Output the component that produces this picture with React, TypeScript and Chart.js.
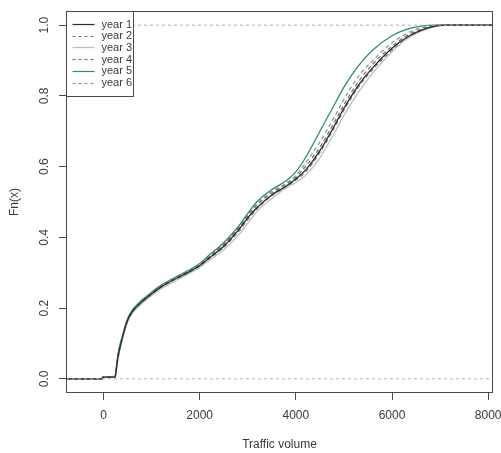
import React, { useEffect, useRef } from 'react';
import { Chart, registerables } from 'chart.js';

Chart.register(...registerables);

// Traffic volume grid (x) shared by all empirical CDF curves
const trafficVolume = [-780, -30, -10, 240, 260, 300, 400, 500, 600, 700, 800, 1000, 1200, 1500, 1800, 2000, 2200, 2500, 2800, 3000, 3200, 3500, 3800, 4000, 4200, 4500, 4800, 5000, 5300, 5600, 6000, 6300, 6600, 6900, 7100, 8100];

const year1 = [0, 0, 0.005, 0.005, 0.02, 0.06, 0.12, 0.165, 0.19, 0.205, 0.218, 0.24, 0.26, 0.283, 0.304, 0.32, 0.342, 0.375, 0.42, 0.455, 0.485, 0.52, 0.545, 0.565, 0.59, 0.645, 0.715, 0.765, 0.83, 0.88, 0.935, 0.965, 0.985, 0.997, 1, 1];
const year2 = [0, 0, 0.005, 0.005, 0.02, 0.06, 0.12, 0.165, 0.19, 0.205, 0.219, 0.241, 0.261, 0.285, 0.306, 0.322, 0.345, 0.38, 0.425, 0.46, 0.492, 0.525, 0.55, 0.57, 0.6, 0.655, 0.725, 0.775, 0.84, 0.89, 0.94, 0.97, 0.988, 0.998, 1, 1];
const year3 = [0, 0, 0.004, 0.005, 0.018, 0.055, 0.115, 0.16, 0.185, 0.2, 0.213, 0.235, 0.255, 0.278, 0.299, 0.315, 0.335, 0.365, 0.405, 0.44, 0.475, 0.51, 0.54, 0.555, 0.575, 0.625, 0.695, 0.745, 0.81, 0.865, 0.925, 0.96, 0.982, 0.996, 1, 1];
const year4 = [0, 0, 0.005, 0.005, 0.02, 0.062, 0.12, 0.165, 0.19, 0.205, 0.217, 0.239, 0.259, 0.282, 0.302, 0.318, 0.34, 0.372, 0.415, 0.45, 0.482, 0.518, 0.543, 0.562, 0.585, 0.64, 0.71, 0.76, 0.825, 0.875, 0.93, 0.962, 0.984, 0.997, 1, 1];
const year5 = [0, 0, 0.005, 0.006, 0.025, 0.07, 0.125, 0.17, 0.195, 0.21, 0.223, 0.245, 0.265, 0.288, 0.309, 0.326, 0.35, 0.385, 0.43, 0.468, 0.502, 0.535, 0.56, 0.585, 0.625, 0.7, 0.775, 0.825, 0.885, 0.93, 0.97, 0.988, 0.997, 1, 1, 1];
const year6 = [0, 0, 0.005, 0.006, 0.022, 0.065, 0.122, 0.168, 0.192, 0.207, 0.221, 0.243, 0.263, 0.286, 0.307, 0.324, 0.347, 0.38, 0.425, 0.462, 0.496, 0.53, 0.553, 0.575, 0.61, 0.67, 0.74, 0.79, 0.855, 0.9, 0.95, 0.976, 0.992, 0.999, 1, 1];

const seriesNames = ['year 1', 'year 2', 'year 3', 'year 4', 'year 5', 'year 6'];
const seriesValues = [year1, year2, year3, year4, year5, year6];
const seriesColors = ['#2b2b2b', '#8a6a6a', '#b9c4ab', '#6f7590', '#2f8a78', '#7f9e9c'];
const seriesDashed = [false, true, false, true, false, true];

const xTicks = [0, 2000, 4000, 6000, 8000];
const yTicks = [0, 0.2, 0.4, 0.6, 0.8, 1.0];
const yTickLabels = ['0.0', '0.2', '0.4', '0.6', '0.8', '1.0'];
const xLimits = [-780, 8100];
const yLimits = [-0.04, 1.04];
const refLevels = [0, 1];

const FONT = '"Liberation Sans", Arial, Helvetica, sans-serif';
const TEXT = '#3a3a3a';
const AXIS = '#4a4a4a';

const decorPlugin = {
  id: 'decor',
  afterDatasetsDraw(chart: any) {
    const { ctx, chartArea } = chart;
    const ys = chart.scales.y;
    ctx.save();
    // plot box
    ctx.strokeStyle = AXIS;
    ctx.lineWidth = 1;
    const l = Math.round(chartArea.left) + 0.5;
    const t = Math.round(chartArea.top) + 0.5;
    const r = Math.round(chartArea.right) - 0.5;
    const b = Math.round(chartArea.bottom) - 0.5;
    ctx.strokeRect(l, t, r - l, b - t);

    // y tick labels, rotated like R
    ctx.fillStyle = TEXT;
    ctx.font = `12px ${FONT}`;
    ctx.textAlign = 'center';
    ctx.textBaseline = 'middle';
    yTicks.forEach((v, i) => {
      const py = ys.getPixelForValue(v);
      ctx.save();
      ctx.translate(chartArea.left - 21, py);
      ctx.rotate(-Math.PI / 2);
      ctx.fillText(yTickLabels[i], 0, 0);
      ctx.restore();
    });

    // legend box (top-left)
    const lx = l;
    const ly = t;
    const lw = 67;
    const lh = 85;
    ctx.fillStyle = '#ffffff';
    ctx.fillRect(lx, ly, lw, lh);
    ctx.strokeStyle = AXIS;
    ctx.strokeRect(lx, ly, lw, lh);
    ctx.font = `11px ${FONT}`;
    ctx.textAlign = 'left';
    seriesNames.forEach((name, i) => {
      const yy = ly + 12.5 + i * 11.7;
      ctx.strokeStyle = seriesColors[i];
      ctx.lineWidth = 1.2;
      ctx.setLineDash(seriesDashed[i] ? [3, 3] : []);
      ctx.beginPath();
      ctx.moveTo(lx + 6, Math.round(yy) + 0.5);
      ctx.lineTo(lx + 28, Math.round(yy) + 0.5);
      ctx.stroke();
      ctx.setLineDash([]);
      ctx.fillStyle = TEXT;
      ctx.fillText(name, lx + 35, yy + 0.5);
    });
    ctx.restore();
  },
};

export default function App() {
  const canvasRef = useRef<HTMLCanvasElement | null>(null);

  useEffect(() => {
    if (!canvasRef.current) return;
    const refSets = refLevels.map((lv) => ({
      label: 'ref ' + lv,
      data: xLimits.map((x) => ({ x, y: lv })),
      borderColor: '#b3b3b3',
      borderWidth: 1,
      borderDash: [3, 3],
      pointRadius: 0,
      fill: false,
    }));
    const curveSets = seriesValues.map((vals, i) => ({
      label: seriesNames[i],
      data: trafficVolume.map((x, j) => ({ x, y: vals[j] })),
      borderColor: seriesColors[i],
      borderWidth: 1.3,
      borderDash: seriesDashed[i] ? [4, 3] : [],
      pointRadius: 0,
      fill: false,
      cubicInterpolationMode: 'monotone' as const,
    }));
    const chart = new Chart(canvasRef.current, {
      type: 'line',
      data: { datasets: [...refSets, ...curveSets] as any },
      plugins: [decorPlugin],
      options: {
        animation: false,
        responsive: false,
        devicePixelRatio: 1,
        layout: { padding: { top: 11, right: 8, left: 0, bottom: 0 } },
        plugins: { legend: { display: false }, tooltip: { enabled: false } },
        scales: {
          x: {
            type: 'linear',
            min: xLimits[0],
            max: xLimits[1],
            afterBuildTicks: (s: any) => {
              s.ticks = xTicks.map((v) => ({ value: v }));
            },
            afterFit: (s: any) => {
              s.height = 60;
              s.paddingLeft = 0;
              s.paddingRight = 0;
            },
            grid: { drawOnChartArea: false, drawTicks: true, tickLength: 7, color: AXIS },
            border: { display: false },
            ticks: {
              color: TEXT,
              font: { family: FONT, size: 12 },
              padding: 8,
              maxRotation: 0,
              minRotation: 0,
              autoSkip: false,
              callback: (v: any) => String(v),
            },
            title: {
              display: true,
              text: 'Traffic volume',
              color: TEXT,
              font: { family: FONT, size: 12 },
              padding: { top: 0, bottom: 1 },
            },
          },
          y: {
            type: 'linear',
            min: yLimits[0],
            max: yLimits[1],
            afterBuildTicks: (s: any) => {
              s.ticks = yTicks.map((v) => ({ value: v }));
            },
            afterFit: (s: any) => {
              s.width = 66;
              s.paddingTop = 0;
              s.paddingBottom = 0;
            },
            grid: { drawOnChartArea: false, drawTicks: true, tickLength: 7, color: AXIS },
            border: { display: false },
            ticks: { display: false },
            title: {
              display: true,
              text: 'Fn(x)',
              color: TEXT,
              font: { family: FONT, size: 12 },
              padding: { top: 7, bottom: 0 },
            },
          },
        },
      },
    });
    return () => chart.destroy();
  }, []);

  return (
    <div style={{ position: 'fixed', left: 0, top: 0, width: 501, height: 453, overflow: 'hidden', background: '#fff' }}>
      <canvas ref={canvasRef} width={501} height={453} style={{ display: 'block' }} />
    </div>
  );
}
